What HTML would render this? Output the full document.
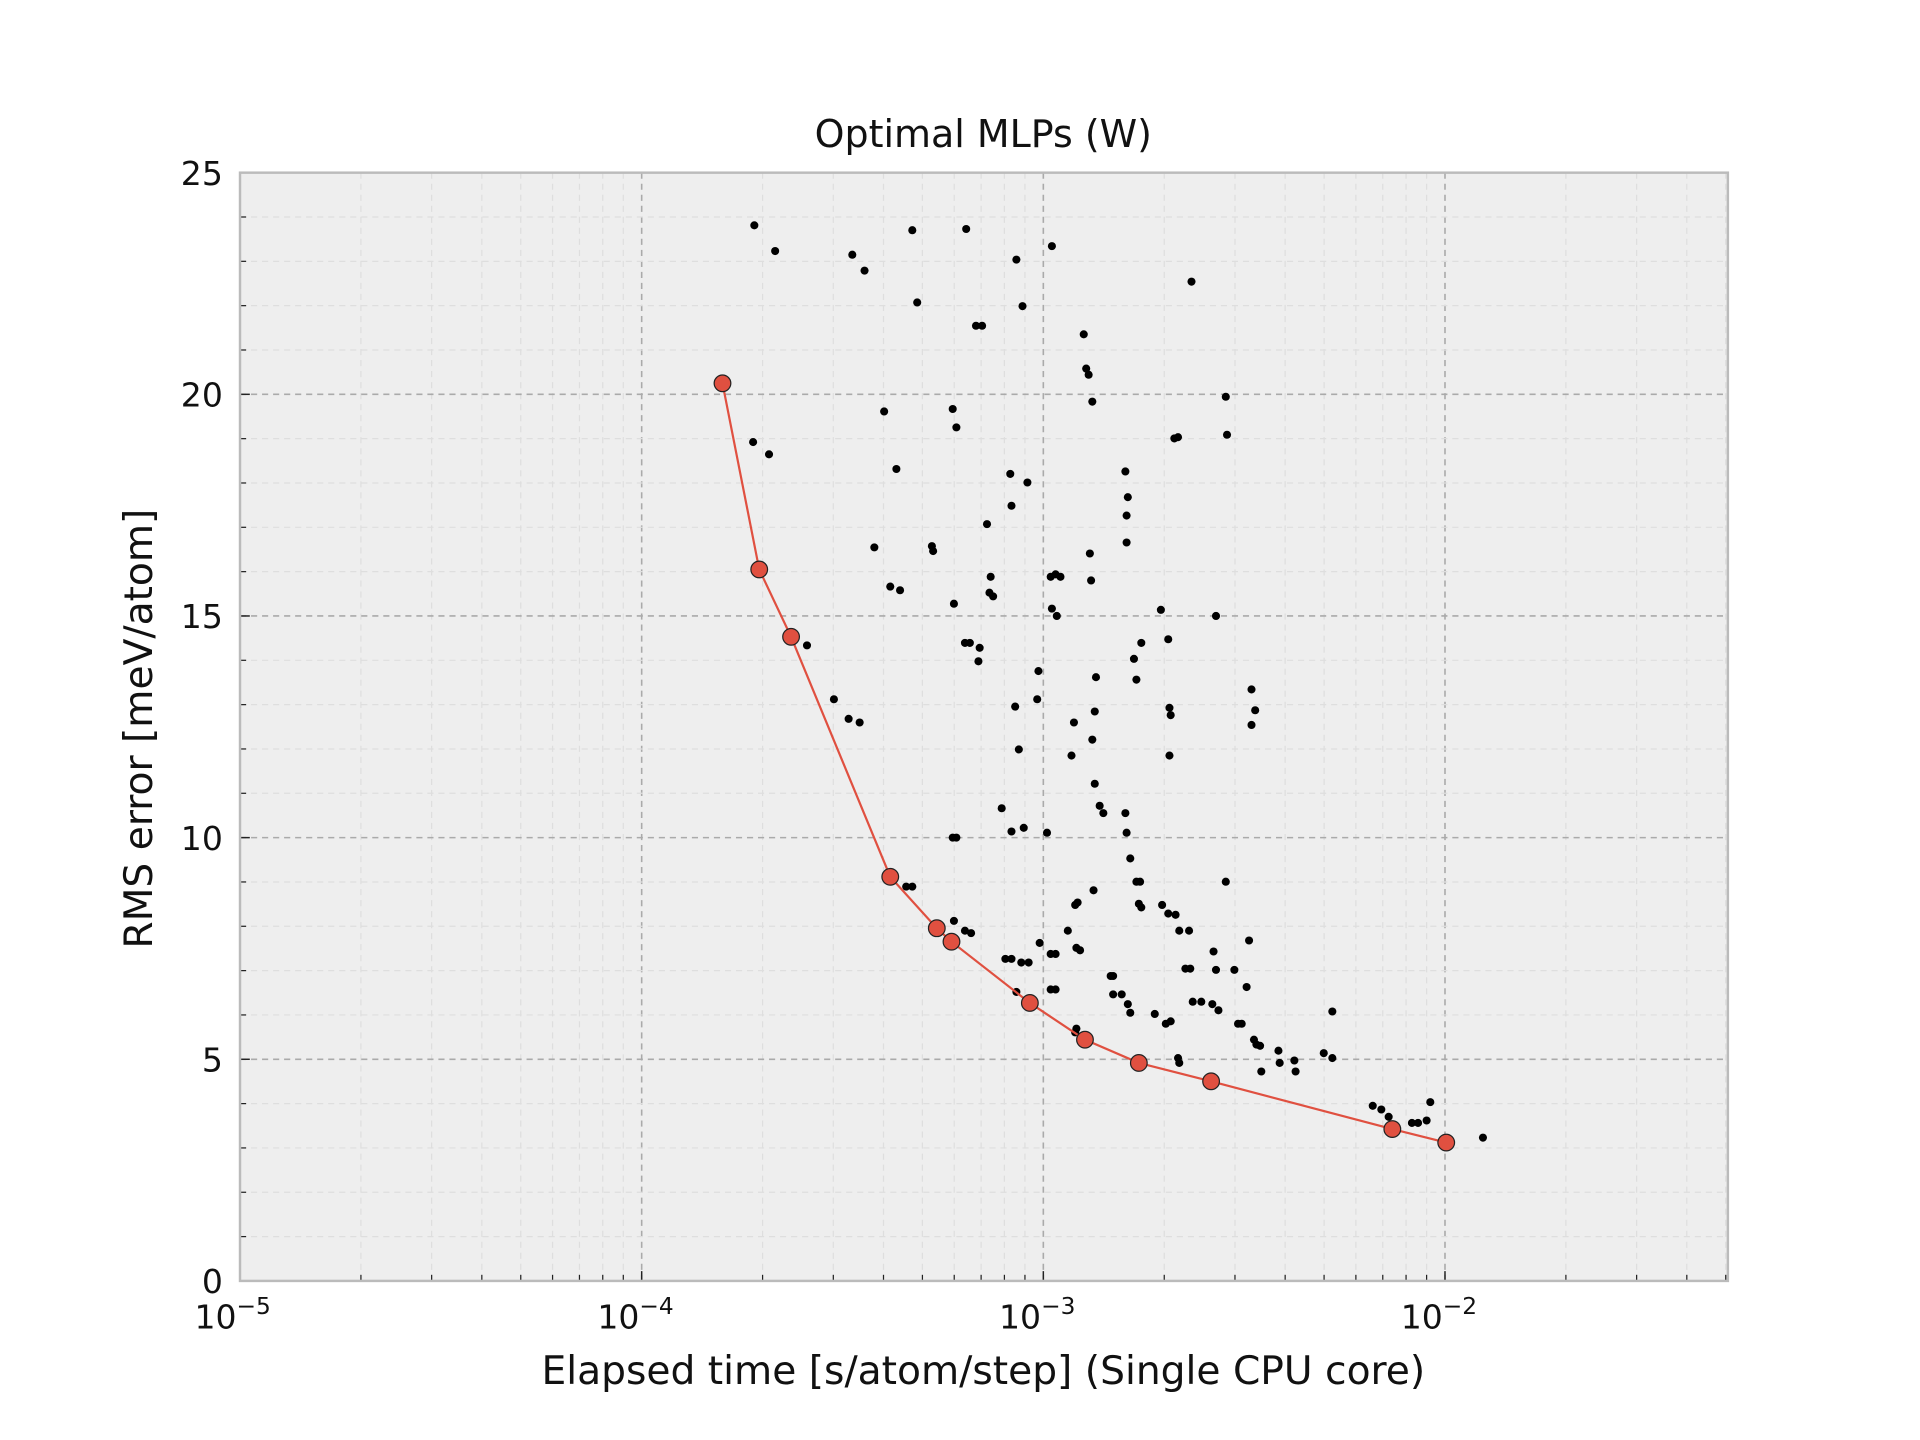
<!DOCTYPE html>
<html><head><meta charset="utf-8"><style>html,body{margin:0;padding:0;background:#fff}svg{display:block}</style></head>
<body>
<svg width="1920" height="1440" viewBox="0 0 1567.9 1175.9" preserveAspectRatio="none" xmlns="http://www.w3.org/2000/svg" font-family="'DejaVu Sans','Liberation Sans',sans-serif">
<rect x="196" y="141" width="1215" height="905" fill="#eeeeee"/>
<g id="grid"></g>
<g id="pts"></g>
<rect x="196" y="141" width="1215" height="905" fill="none" stroke="#bbbbbb" stroke-width="2"/>
<text x="803" y="120" font-size="31" text-anchor="middle" fill="#111">Optimal MLPs (W)</text>
<text x="803" y="1130" font-size="32" text-anchor="middle" fill="#111">Elapsed time [s/atom/step] (Single CPU core)</text>
<text transform="translate(124,595) rotate(-90)" font-size="32" text-anchor="middle" fill="#111">RMS error [meV/atom]</text>
<g font-size="27" fill="#111" text-anchor="end">
<text x="182" y="1056">0</text><text x="182" y="875">5</text><text x="182" y="694">10</text><text x="182" y="513">15</text><text x="182" y="332">20</text><text x="182" y="151">25</text>
</g>
<g font-size="27" fill="#111" text-anchor="middle">
<text x="190" y="1085">10<tspan font-size="19" dy="-12">−5</tspan></text>
<text x="519" y="1085">10<tspan font-size="19" dy="-12">−4</tspan></text>
<text x="847" y="1085">10<tspan font-size="19" dy="-12">−3</tspan></text>
<text x="1175" y="1085">10<tspan font-size="19" dy="-12">−2</tspan></text>
</g>
<script>
const ns="http://www.w3.org/2000/svg";
const L=196,R=1411,T=141,B=1046,D=328;
const g=document.getElementById('grid');
function ln(x1,y1,x2,y2,s,w,da){const e=document.createElementNS(ns,'line');e.setAttribute('x1',x1);e.setAttribute('y1',y1);e.setAttribute('x2',x2);e.setAttribute('y2',y2);e.setAttribute('stroke',s);e.setAttribute('stroke-width',w);if(da)e.setAttribute('stroke-dasharray',da);g.appendChild(e);}
for(let d=0;d<4;d++){for(let m=1;m<10;m++){const x=L+D*(d+Math.log10(m));if(x>R)break;
 if(m==1){if(d>0){ln(x,T,x,B,'#aaaaaa',1.3,'5,4');}ln(x,B,x,B-8,'#222',1.2);}
 else{ln(x,T,x,B,'#dedede',1,'5,4');ln(x,B,x,B-5,'#222',1);}}}
for(let v=0;v<=25;v++){const y=B-v*36.2;
 if(v%5==0){if(v>0&&v<25)ln(L,y,R,y,'#aaaaaa',1.3,'5,4');ln(L,y,L+8,y,'#222',1.2);}
 else{ln(L,y,R,y,'#dedede',1,'5,4');ln(L,y,L+5,y,'#222',1);}}
const p=document.getElementById('pts');
const s=[[616,184],[633,205],[696,208],[706,221],[745,188],[789,187],[830,212],[859,201],[749,247],[835,250],[797,266],[802,266],[885,273],[887,301],[889,306],[892,328],[973,230],[1001,324],[1002,355],[959,358],[962,357],[722,336],[778,334],[781,349],[615,361],[628,371],[732,383],[825,387],[839,394],[826,413],[919,385],[921,406],[920,421],[920,443],[806,428],[714,447],[761,446],[762,450],[727,479],[735,482],[809,471],[808,484],[811,487],[858,471],[862,469],[866,471],[890,452],[891,474],[779,493],[859,497],[863,503],[948,498],[954,522],[993,503],[932,525],[926,538],[928,555],[659,527],[788,525],[792,525],[800,529],[799,540],[848,548],[847,571],[895,553],[681,571],[693,587],[702,590],[829,577],[877,590],[892,604],[894,581],[875,617],[832,612],[955,578],[956,584],[955,617],[1022,563],[1025,580],[1022,592],[894,640],[898,658],[901,664],[919,664],[920,680],[923,701],[818,660],[826,679],[836,676],[855,680],[778,684],[781,684],[1001,720],[928,720],[931,720],[930,738],[932,741],[949,739],[954,746],[960,747],[963,760],[971,760],[878,739],[880,737],[893,727],[740,724],[745,724],[779,752],[788,760],[793,762],[872,760],[879,774],[882,776],[821,783],[826,783],[849,770],[858,779],[862,779],[907,797],[909,797],[834,786],[840,786],[1020,768],[968,791],[972,791],[1008,792],[991,777],[993,792],[909,812],[916,812],[921,820],[923,827],[943,828],[952,836],[956,834],[858,808],[862,808],[830,810],[879,840],[878,843],[974,818],[981,818],[990,820],[995,825],[1018,806],[1011,836],[1014,836],[1024,849],[1026,853],[1029,854],[1044,858],[1057,866],[1045,868],[1088,826],[1081,860],[1088,864],[1030,875],[1058,875],[962,864],[963,868],[1121,903],[1128,906],[1134,912],[1153,917],[1158,917],[1165,915],[1168,900],[1211,929]];
for(const [x,y] of s){const c=document.createElementNS(ns,'circle');c.setAttribute('cx',x);c.setAttribute('cy',y);c.setAttribute('r',3.3);c.setAttribute('fill','#000');p.appendChild(c);}
const r=[[590,313],[620,465],[646,520],[727,716],[765,758],[777,769],[841,819],[886,849],[930,868],[989,883],[1137,922],[1181,933]];
const pl=document.createElementNS(ns,'polyline');pl.setAttribute('points',r.map(a=>a.join(',')).join(' '));pl.setAttribute('fill','none');pl.setAttribute('stroke','#e05040');pl.setAttribute('stroke-width',1.8);p.appendChild(pl);
for(const [x,y] of r){const c=document.createElementNS(ns,'circle');c.setAttribute('cx',x);c.setAttribute('cy',y);c.setAttribute('r',6.8);c.setAttribute('fill','#e05040');c.setAttribute('stroke','#222');c.setAttribute('stroke-width',1);p.appendChild(c);}
</script>
</svg>
</body></html>
